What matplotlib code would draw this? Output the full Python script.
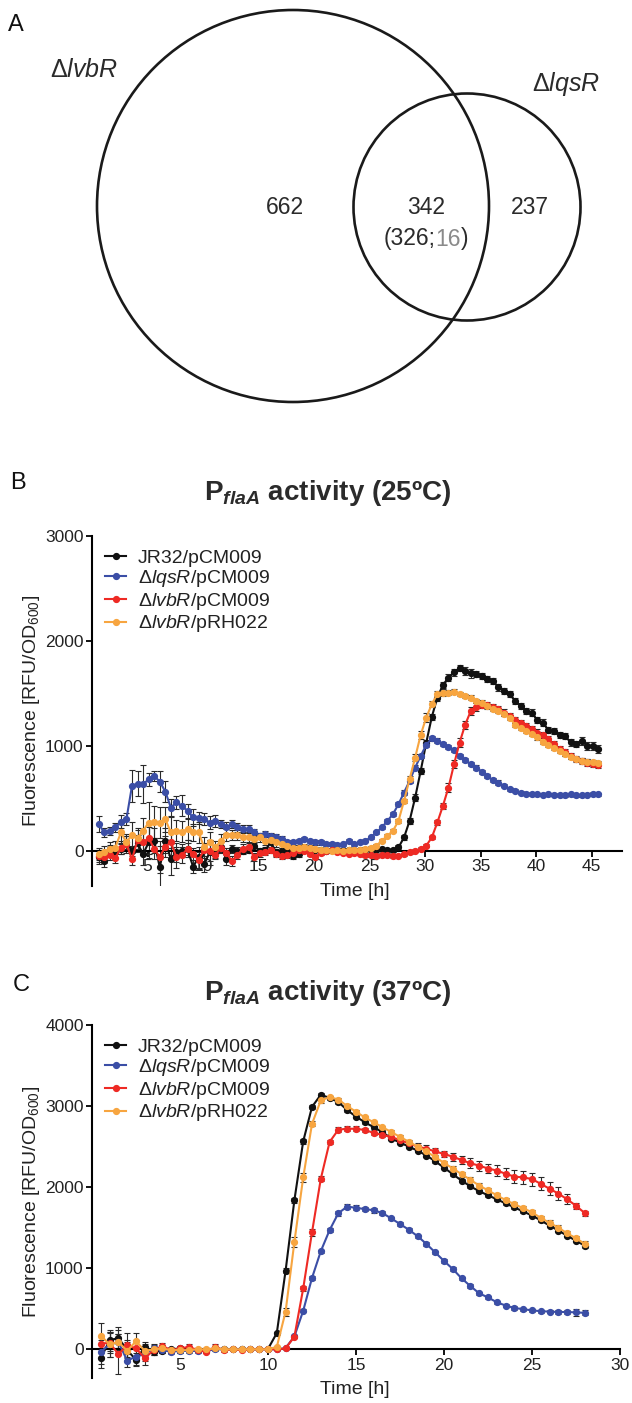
import numpy as np
import matplotlib
matplotlib.use('Agg')
import matplotlib.pyplot as plt
from matplotlib.patches import Circle
from matplotlib.lines import Line2D

plt.rcParams['font.family'] = ['Liberation Sans', 'DejaVu Sans']
plt.rcParams['mathtext.fontset'] = 'custom'
plt.rcParams['mathtext.rm'] = 'Liberation Sans'
plt.rcParams['mathtext.it'] = 'Liberation Sans:italic'
plt.rcParams['mathtext.bf'] = 'Liberation Sans:bold'
plt.rcParams['mathtext.bfit'] = 'Liberation Sans:bold:italic'

# ---- data ----
# Venn counts
only_lvbR = 662
shared = 342
shared_split = (326, 16)
only_lqsR = 237

# legend labels
labels = ['JR32/pCM009', r'$\mathit{\Delta lqsR}$/pCM009',
          r'$\mathit{\Delta lvbR}$/pCM009', r'$\mathit{\Delta lvbR}$/pRH022']
colors = ['#111111', '#3b4ea6', '#ee2a24', '#f7a540']

# panel B, 25 C  (time in h, 0.5 h sampling)
t25 = np.arange(0.6, 45.7, 0.5)
black25 = [-63, -95, 16, -16, 16, 79, 0, 70, -32, 79, 95, -158, 95, -79, -16, 0, 16, -152, -63, -127,
           -16, -32, 38, -79, 16, 0, 0, 6, 48, 0, 6, 80, -16, 0, 0, -48, -32, 25, 16, 6,
           6, 0, 6, 10, 5, 10, 0, 5, 10, 15, 10, 15, 10, 5, 32, 127, 285, 507, 761, 1030,
           1276, 1460, 1580, 1650, 1700, 1740, 1714, 1690, 1683, 1667, 1635, 1619, 1556, 1524, 1492, 1429, 1381, 1333, 1317, 1244,
           1222, 1149, 1143, 1105, 1095, 1032, 1016, 1048, 1000, 1000, 968]
blue25 = [254, 174, 190, 222, 276, 301, 618, 640, 634, 681, 713, 660, 564, 412, 460, 428, 380, 317, 311, 301,
          269, 285, 254, 222, 254, 222, 206, 206, 174, 143, 159, 143, 127, 111, 79, 79, 95, 111, 95, 79,
          79, 63, 63, 57, 63, 95, 63, 79, 95, 127, 174, 222, 285, 349, 444, 555, 666, 793, 904, 1010,
          1070, 1050, 1020, 990, 957, 903, 862, 824, 793, 754, 713, 672, 650, 618, 586, 571, 555, 545, 540, 540,
          535, 540, 535, 530, 530, 540, 530, 530, 535, 545, 540]
red25 = [-50, -60, -40, -70, 30, 60, -80, 100, 80, 120, 20, -60, 40, 80, -60, -40, 20, -30, -90, 10,
         0, -40, 30, -20, -100, -40, 20, 40, -60, -20, -10, 10, -30, -50, -40, -20, 10, 0, -30, -60,
         -20, 0, 10, -10, -20, -30, -20, -30, -40, -40, -50, -40, -40, -50, -48, -32, -16, 0, 16, 48,
         127, 270, 428, 602, 824, 1030, 1200, 1330, 1370, 1390, 1385, 1370, 1350, 1317, 1286, 1244, 1213, 1190, 1159, 1127,
         1105, 1063, 1016, 968, 937, 905, 873, 857, 841, 825, 819]
orange25 = [-30, -10, 20, 30, 174, 80, 152, 120, 190, 269, 276, 269, 301, 174, 190, 181, 206, 174, 174, 32,
            79, 32, 95, 152, 152, 152, 133, 127, 111, 127, 95, 101, 79, 63, 48, 25, 25, 32, 25, 16,
            6, 6, 0, 5, 0, 5, 10, 10, 20, 30, 48, 95, 143, 190, 285, 476, 682, 888, 1105, 1270,
            1397, 1492, 1508, 1508, 1517, 1492, 1476, 1460, 1429, 1413, 1381, 1349, 1333, 1302, 1270, 1200, 1170, 1140, 1110, 1080,
            1040, 1010, 980, 950, 920, 895, 873, 860, 850, 845, 840]
black25_err = [60, 60, 40, 40, 50, 60, 50, 80, 100, 150, 120, 200, 120, 150, 90, 60, 60, 60, 100, 80,
               120, 40, 50, 60, 40, 40, 30, 30, 40, 30, 30, 40, 30, 30, 30, 30, 30, 20, 20, 20,
               20, 20, 20, 15, 15, 15, 15, 15, 15, 15, 15, 15, 15, 15, 20, 25, 30, 30, 30, 30,
               30, 30, 30, 30, 30, 30, 40, 40, 30, 30, 30, 30, 30, 30, 30, 30, 30, 30, 30, 30,
               30, 30, 30, 30, 30, 30, 30, 40, 40, 40, 40]
blue25_err = [80, 40, 40, 40, 60, 60, 150, 120, 180, 60, 50, 100, 100, 80, 60, 100, 70, 80, 60, 60,
              60, 60, 40, 50, 40, 40, 40, 40, 30, 30, 30, 30, 30, 30, 20, 20, 20, 20, 20, 20,
              20, 20, 20, 15, 15, 15, 15, 15, 15, 15, 15, 15, 15, 20, 20, 20, 20, 20, 20, 20,
              20, 20, 20, 20, 20, 20, 20, 20, 20, 20, 20, 20, 20, 15, 15, 15, 15, 15, 15, 15,
              15, 15, 15, 15, 15, 15, 15, 15, 15, 15, 15]
red25_err = [60, 60, 50, 50, 60, 80, 60, 100, 120, 150, 100, 150, 100, 120, 100, 80, 80, 60, 80, 60,
             100, 40, 50, 50, 50, 40, 40, 40, 40, 40, 30, 30, 30, 30, 30, 30, 30, 20, 20, 20,
             20, 20, 20, 15, 15, 15, 15, 15, 15, 15, 15, 15, 15, 15, 15, 15, 15, 15, 15, 15,
             15, 20, 30, 40, 40, 40, 40, 40, 40, 30, 30, 30, 30, 30, 30, 30, 30, 30, 30, 30,
             30, 30, 30, 30, 30, 30, 30, 30, 30, 30, 30]
orange25_err = [60, 60, 60, 60, 100, 80, 120, 100, 120, 200, 150, 150, 120, 150, 100, 100, 100, 80, 100, 100,
                100, 60, 60, 60, 50, 50, 50, 50, 40, 40, 40, 40, 40, 40, 30, 30, 30, 30, 30, 20,
                20, 20, 20, 15, 15, 15, 15, 15, 15, 15, 15, 15, 15, 15, 20, 20, 30, 30, 40, 40,
                30, 30, 30, 20, 20, 20, 20, 20, 20, 20, 20, 20, 20, 20, 20, 20, 20, 20, 20, 20,
                20, 20, 20, 20, 20, 20, 20, 20, 20, 20, 20]

# panel C, 37 C
t37 = np.arange(0.5, 28.1, 0.5)
black37 = [-110, 110, 140, -10, -130, 30, -30, -20, 0, 10,
           0, -10, -10, 10, 0, 0, 0, 0, 0, 5,
           200, 970, 1840, 2565, 2990, 3140, 3100, 3050, 2950, 2870,
           2800, 2740, 2680, 2600, 2550, 2500, 2450, 2390, 2320, 2240,
           2160, 2080, 2010, 1950, 1900, 1850, 1800, 1750, 1700, 1650,
           1590, 1525, 1465, 1400, 1340, 1277]
blue37 = [-30, 60, 90, -140, -90, -60, 10, -10, -30, -20,
          -20, -20, -20, 0, 0, 0, 0, 0, 0, 0,
          0, 15, 160, 475, 880, 1210, 1470, 1680, 1760, 1745,
          1730, 1715, 1680, 1615, 1545, 1475, 1395, 1300, 1195, 1090,
          990, 875, 780, 690, 640, 580, 540, 510, 495, 480,
          470, 465, 460, 460, 455, 450]
red37 = [70, 80, -60, 50, 10, -110, -10, 40, -10, 10,
         30, -10, -30, 30, -10, 0, -10, 0, 0, 0,
         0, 10, 157, 750, 1442, 2103, 2557, 2710, 2720, 2720,
         2705, 2670, 2645, 2620, 2580, 2540, 2500, 2475, 2440, 2410,
         2375, 2335, 2295, 2265, 2230, 2205, 2165, 2130, 2120, 2100,
         2040, 1980, 1920, 1850, 1770, 1680]
orange37 = [170, 60, 90, -20, 100, -20, 0, 10, -10, -10,
            -10, 0, 0, 10, 0, 0, 0, 0, 0, 0,
            30, 465, 1325, 2120, 2780, 3070, 3110, 3080, 3000, 2930,
            2860, 2800, 2740, 2680, 2620, 2560, 2500, 2440, 2370, 2300,
            2230, 2160, 2090, 2020, 1960, 1900, 1840, 1790, 1740, 1690,
            1620, 1560, 1500, 1430, 1370, 1300]
black37_err = [120, 130, 130, 100, 80, 60, 40, 30, 20, 20,
               20, 20, 20, 20, 20, 10, 10, 10, 10, 10,
               10, 30, 30, 30, 20, 20, 20, 20, 20, 20,
               20, 20, 20, 20, 20, 20, 20, 20, 20, 20,
               20, 20, 20, 20, 20, 20, 20, 20, 20, 20,
               20, 20, 20, 20, 20, 30]
blue37_err = [150, 150, 150, 80, 100, 80, 60, 40, 30, 30,
              30, 30, 20, 20, 20, 10, 10, 10, 10, 10,
              10, 10, 20, 20, 20, 20, 20, 30, 30, 30,
              30, 30, 20, 20, 20, 20, 20, 20, 20, 20,
              20, 20, 20, 20, 20, 20, 20, 20, 20, 20,
              20, 20, 20, 20, 40, 30]
red37_err = [100, 120, 250, 150, 100, 80, 60, 40, 30, 30,
             30, 20, 20, 40, 20, 10, 10, 10, 10, 10,
             10, 10, 20, 30, 40, 30, 30, 30, 30, 30,
             30, 30, 30, 30, 30, 30, 40, 40, 40, 40,
             50, 50, 60, 60, 60, 70, 70, 80, 80, 80,
             80, 80, 80, 60, 40, 30]
orange37_err = [150, 150, 100, 130, 100, 80, 40, 30, 30, 30,
                20, 20, 20, 20, 20, 10, 10, 10, 10, 10,
                10, 50, 60, 60, 30, 30, 20, 20, 20, 20,
                20, 20, 20, 20, 20, 20, 20, 20, 20, 20,
                30, 30, 30, 30, 30, 30, 30, 30, 30, 30,
                30, 30, 30, 30, 30, 30]

W, H = 632, 1403
fig = plt.figure(figsize=(W / 100, H / 100), dpi=100)
txt = '#2b2b2b'


def fx(px):
    return px / W


def fy(py):
    return 1 - py / H


# ---- panel A: Venn ----
axv = fig.add_axes([0, fy(430), 1, 430 / H])
axv.set_xlim(0, W)
axv.set_ylim(430, 0)
axv.axis('off')
axv.add_patch(Circle((293, 206), 196, fill=False, lw=1.9, ec='#1a1a1a'))
axv.add_patch(Circle((467, 207), 113.5, fill=False, lw=1.9, ec='#1a1a1a'))
axv.text(285, 208, str(only_lvbR), fontsize=16.5, color=txt, ha='center', va='center')
axv.text(426, 208, str(shared), fontsize=16.5, color=txt, ha='center', va='center')
axv.text(530, 208, str(only_lqsR), fontsize=16.5, color=txt, ha='center', va='center')
axv.text(84, 70, r'$\mathit{\Delta lvbR}$', fontsize=18, color=txt, ha='center', va='center')
axv.text(566, 84, r'$\mathit{\Delta lqsR}$', fontsize=18, color=txt, ha='center', va='center')

# "(326;16)" with the 16 in grey
fig.canvas.draw()
r = fig.canvas.get_renderer()
parts = ['(%d;' % shared_split[0], '%d' % shared_split[1], ')']
pcols = [txt, '#8a8a8a', txt]
objs = [axv.text(0, 239, p, fontsize=16.5, color=c, va='center') for p, c in zip(parts, pcols)]
widths = [o.get_window_extent(r).width for o in objs]
x0 = 426 - sum(widths) / 2
for o, w in zip(objs, widths):
    o.set_x(x0)
    x0 += w

fig.text(fx(16), fy(25), 'A', fontsize=17, ha='center', va='center', color='#111')
fig.text(fx(18), fy(483), 'B', fontsize=17, ha='center', va='center', color='#111')
fig.text(fx(21), fy(985), 'C', fontsize=17, ha='center', va='center', color='#111')


# ---- panels B and C ----
def line_panel(rect, t, series, errs, order, xmax, ymin, ymax, yticks, xticks):
    ax = fig.add_axes(rect)
    for i in order:
        ax.errorbar(t, series[i], yerr=errs[i], fmt='none', ecolor='#2a2a2a',
                    elinewidth=0.8, capsize=2.5, capthick=0.8, zorder=2 + i * 0.1)
        ax.plot(t, series[i], '-o', color=colors[i], lw=1.5, ms=4.2, zorder=3 + i * 0.1)
    ax.set_xlim(0, xmax)
    ax.set_ylim(ymin, ymax)
    ax.spines['top'].set_visible(False)
    ax.spines['right'].set_visible(False)
    ax.spines['bottom'].set_position(('data', 0))
    ax.spines['bottom'].set_bounds(0, xmax)
    for s in ('left', 'bottom'):
        ax.spines[s].set_linewidth(1.5)
    ax.spines['left'].set_bounds(ymin, ymax)
    ax.set_yticks(yticks)
    ax.set_xticks(xticks)
    ax.tick_params(direction='out', length=4, width=1.4, labelsize=12.5, colors='#111',
                   labelcolor='#222', pad=2)
    ax.set_ylabel(r'Fluorescence [RFU/OD$_{600}$]', fontsize=14, color='#222')
    ax.yaxis.set_label_coords(-0.095, 0.5)
    handles = [Line2D([], [], color=colors[i], lw=1.5, marker='o', ms=4.2) for i in range(4)]
    ax.legend(handles, labels, loc='upper left', bbox_to_anchor=(0.01, 0.985), frameon=False,
              fontsize=14, handlelength=1.1, handletextpad=0.6, labelspacing=0.08,
              borderaxespad=0, labelcolor='#222')
    return ax


rectB = [fx(92), fy(886), (621.7 - 92) / W, (886 - 536) / H]
line_panel(rectB, t25, [black25, blue25, red25, orange25],
           [black25_err, blue25_err, red25_err, orange25_err], [3, 2, 1, 0],
           47.7, -336, 3000, [0, 1000, 2000, 3000], [5, 10, 15, 20, 25, 30, 35, 40, 45])
fig.text(fx(328), fy(500), r'P$_{\mathbfit{flaA}}$ activity (25ºC)', fontsize=20,
         fontweight='bold', ha='center', va='baseline', color='#2b2b2b')
fig.text(fx(355), fy(892), 'Time [h]', fontsize=14, ha='center', va='center', color='#222')

rectC = [fx(92), fy(1378), (620 - 92) / W, (1378 - 1025) / H]
line_panel(rectC, t37, [black37, blue37, red37, orange37],
           [black37_err, blue37_err, red37_err, orange37_err], [3, 1, 0, 2],
           30, -354, 4000, [0, 1000, 2000, 3000, 4000], [5, 10, 15, 20, 25, 30])
fig.text(fx(328), fy(1000), r'P$_{\mathbfit{flaA}}$ activity (37ºC)', fontsize=20,
         fontweight='bold', ha='center', va='baseline', color='#2b2b2b')
fig.text(fx(355), fy(1390), 'Time [h]', fontsize=14, ha='center', va='center', color='#222')

fig.savefig('out.png', dpi=100)
